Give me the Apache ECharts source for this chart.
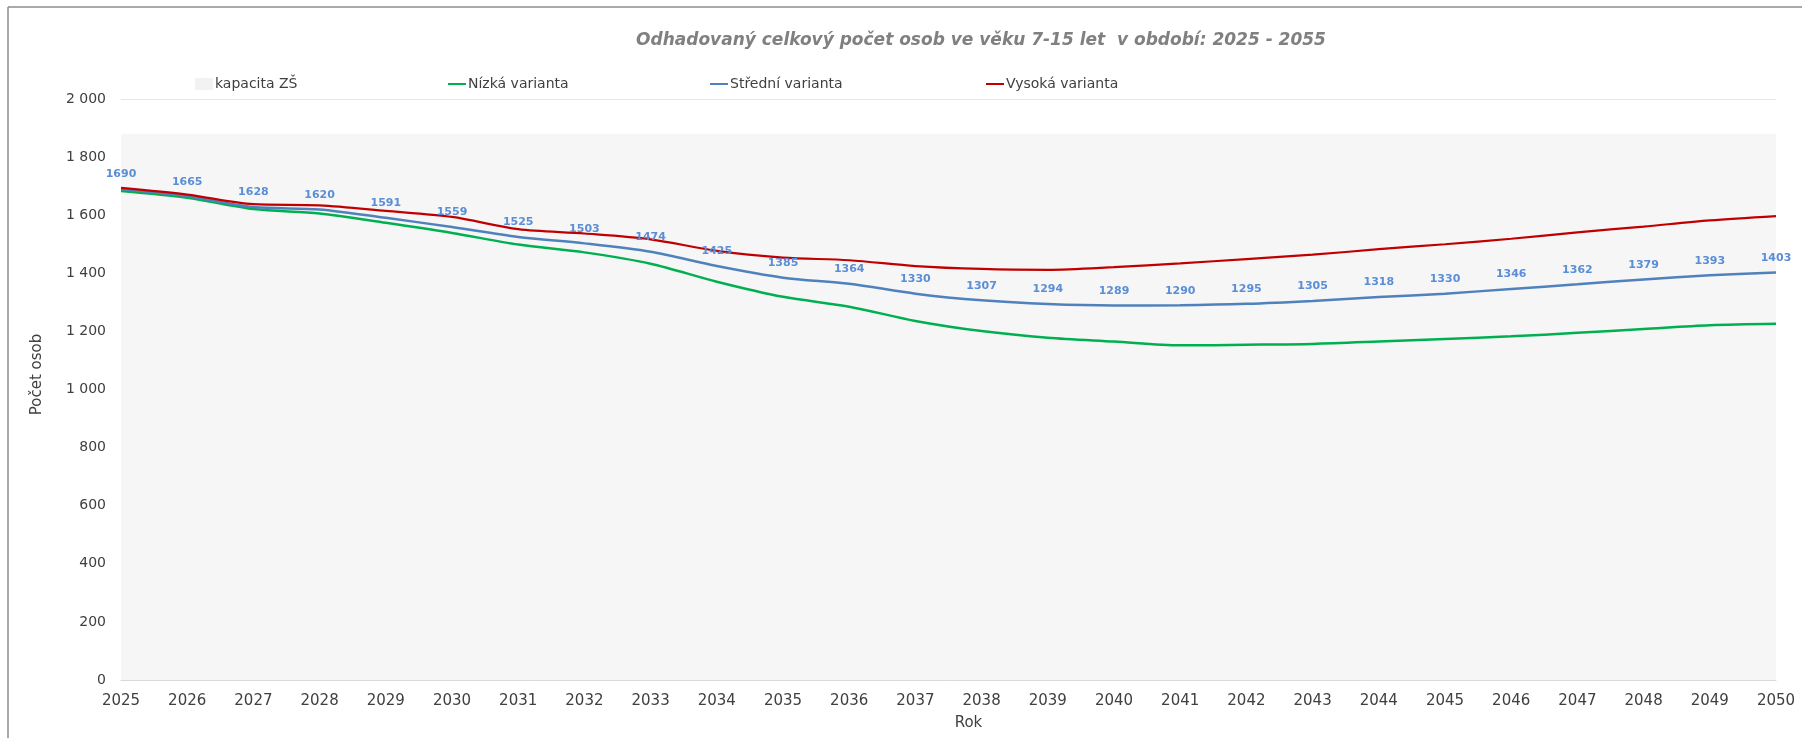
<!DOCTYPE html>
<html>
<head>
<meta charset="utf-8">
<script src="https://cdn.jsdelivr.net/npm/echarts/dist/echarts.min.js"></script>
<style>
  html, body { margin: 0; padding: 0; background: #fff; }
  #chart { width: 1802px; height: 738px; }
</style>
</head>
<body>
<div id="chart"></div>
<script>
// roky (osa x)
var roky = ['2025','2026','2027','2028','2029','2030','2031','2032','2033','2034','2035','2036','2037',
  '2038','2039','2040','2041','2042','2043','2044','2045','2046','2047','2048','2049','2050'];
// kapacita ZŠ
var kapacita = [1880,1880,1880,1880,1880,1880,1880,1880,1880,1880,1880,1880,1880,
  1880,1880,1880,1880,1880,1880,1880,1880,1880,1880,1880,1880,1880];
// varianty projekce
var nizka = [1683,1660,1621,1606,1574,1539,1499,1472,1433,1371,1319,1285,1236,
  1201,1178,1165,1152,1154,1157,1165,1174,1183,1195,1208,1221,1226];
var stredni = [1690,1665,1628,1620,1591,1559,1525,1503,1474,1425,1385,1364,1330,
  1307,1294,1289,1290,1295,1305,1318,1330,1346,1362,1379,1393,1403];
var vysoka = [1694,1671,1638,1634,1615,1594,1552,1537,1517,1477,1454,1445,1425,
  1415,1412,1421,1434,1449,1464,1483,1500,1519,1541,1561,1582,1597];

var font = 'DejaVu Sans';
var myChart = echarts.init(document.getElementById('chart'));

function legendItem(name, left, h) {
  return {
    data: [name],
    left: left,
    top: 80 - 8,
    height: 16,
    icon: 'rect',
    itemWidth: 18,
    itemHeight: h,
    itemGap: 0,
    textStyle: { fontFamily: font, fontSize: 14, color: '#404040', padding: [0, 0, 0, -3] }
  };
}

var option = {
  animation: false,
  backgroundColor: '#fff',
  title: {
    text: 'Odhadovaný celkový počet osob ve věku 7-15 let  v období: 2025 - 2055',
    left: 976,
    top: 27,
    textAlign: 'center',
    textStyle: {
      fontFamily: font,
      fontSize: 17,
      fontStyle: 'italic',
      fontWeight: 'bold',
      color: '#808080'
    }
  },
  legend: [
    legendItem('kapacita ZŠ', 190, 12),
    legendItem('Nízká varianta', 443, 2),
    legendItem('Střední varianta', 705, 2),
    legendItem('Vysoká varianta', 981, 2)
  ],
  graphic: [
    { type: 'line', shape: { x1: 8, y1: 7, x2: 1802, y2: 7 }, style: { stroke: '#8c8c8c', lineWidth: 1.5 } },
    { type: 'line', shape: { x1: 8, y1: 7, x2: 8, y2: 738 }, style: { stroke: '#8c8c8c', lineWidth: 1.5 } }
  ],
  grid: { left: 121, right: 26, top: 99, bottom: 58 },
  xAxis: {
    type: 'category',
    data: roky,
    boundaryGap: false,
    name: 'Rok',
    nameLocation: 'middle',
    nameGap: 36,
    nameTextStyle: { fontFamily: font, fontSize: 15, color: '#404040', padding: [0, 0, 0, 40] },
    axisLine: { lineStyle: { color: '#d9d9d9', width: 1 } },
    axisTick: { show: false },
    axisLabel: { fontFamily: font, fontSize: 15, color: '#404040', margin: 14, interval: 0 },
    splitLine: { show: false }
  },
  yAxis: {
    type: 'value',
    min: 0,
    max: 2000,
    interval: 200,
    name: 'Počet osob',
    nameLocation: 'middle',
    nameGap: 76,
    nameTextStyle: { fontFamily: font, fontSize: 15, color: '#404040', padding: [0, 0, 0, 30] },
    axisLine: { show: false },
    axisTick: { show: false },
    axisLabel: {
      fontFamily: font, fontSize: 14, color: '#404040', margin: 15,
      formatter: function (v) { return String(v).replace(/\B(?=(\d{3})+(?!\d))/g, ' '); }
    },
    splitLine: { lineStyle: { color: '#e6e6e6', width: 1 } }
  },
  series: [
    {
      name: 'kapacita ZŠ',
      type: 'line',
      data: kapacita,
      symbol: 'none',
      lineStyle: { width: 0 },
      itemStyle: { color: '#f2f2f2' },
      areaStyle: { color: '#f6f6f6', opacity: 1 },
      z: 1
    },
    {
      name: 'Nízká varianta',
      type: 'line',
      data: nizka,
      smooth: 0.3,
      symbol: 'none',
      itemStyle: { color: '#00b050' },
      lineStyle: { width: 2.5, color: '#00b050' }
    },
    {
      name: 'Střední varianta',
      type: 'line',
      data: stredni,
      smooth: 0.3,
      symbol: 'circle',
      symbolSize: 0,
      showSymbol: true,
      itemStyle: { color: '#4f81bd' },
      lineStyle: { width: 2.5, color: '#4f81bd' },
      label: {
        show: true,
        position: 'top',
        distance: 9,
        fontFamily: font,
        fontSize: 11,
        fontWeight: 'bold',
        color: '#5a8ed6'
      }
    },
    {
      name: 'Vysoká varianta',
      type: 'line',
      data: vysoka,
      smooth: 0.3,
      symbol: 'none',
      itemStyle: { color: '#c00000' },
      lineStyle: { width: 2.2, color: '#c00000' }
    }
  ]
};
myChart.setOption(option);
</script>
</body>
</html>
